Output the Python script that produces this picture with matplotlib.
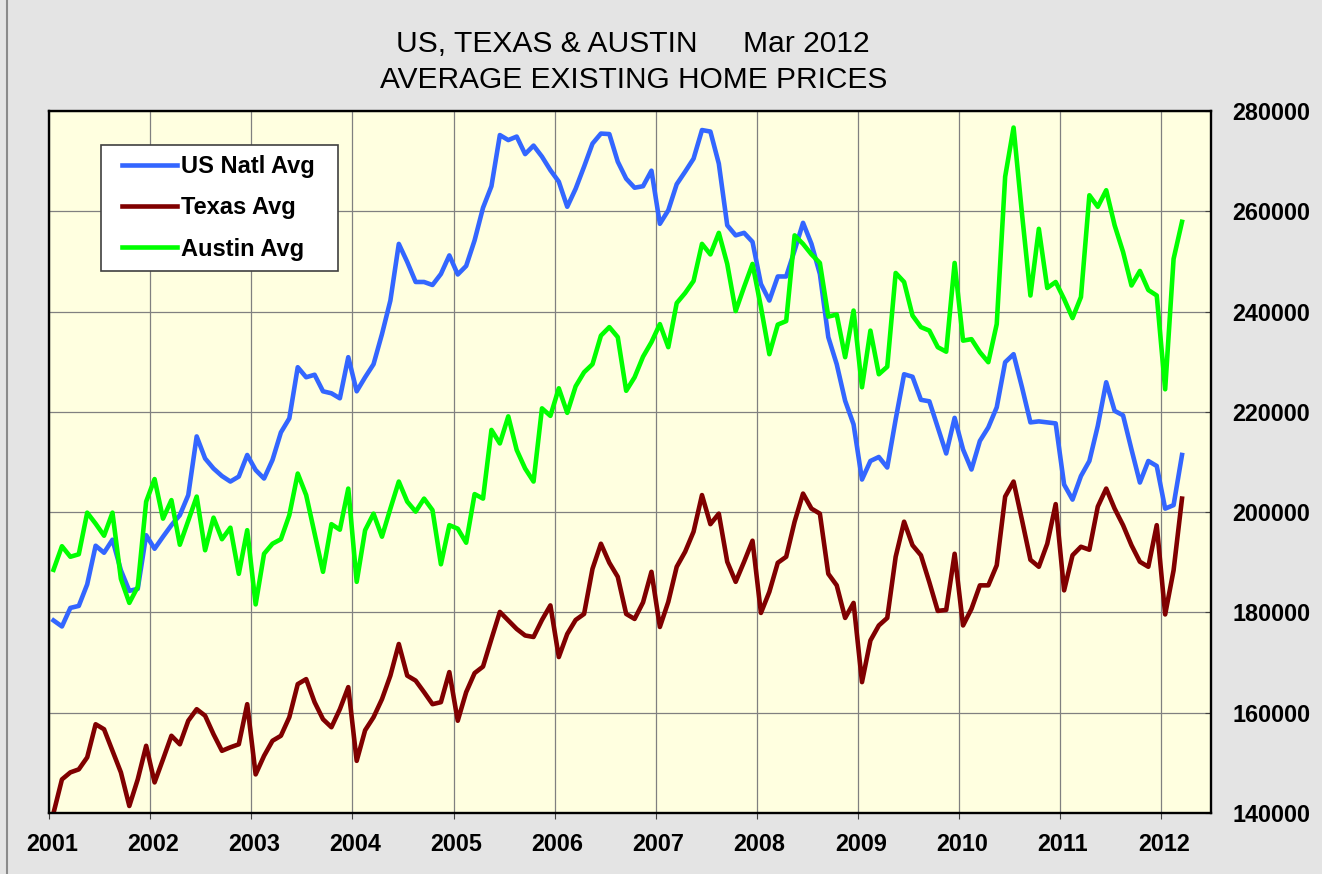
import matplotlib
matplotlib.use('Agg')
import matplotlib.pyplot as plt
import matplotlib.transforms as mtransforms
import numpy as np
from matplotlib.lines import Line2D
from matplotlib.legend_handler import HandlerLine2D

plt.rcParams['font.family'] = ['Liberation Sans', 'DejaVu Sans']

years = list(range(2001, 2013))
series_names = ['US Natl Avg', 'Texas Avg', 'Austin Avg']

# Monthly averages, Jan 2001 .. Mar 2012
us_natl = [
    178400, 177200, 180900, 181300, 185600, 193300, 191900, 194500, 188400, 184300, 184700, 195400,
    192700, 195100, 197400, 199400, 203400, 215100, 210700, 208700, 207200, 206100, 207100, 211400,
    208400, 206700, 210400, 215900, 218700, 228900, 226900, 227400, 224100, 223700, 222700, 230900,
    224100, 226900, 229500, 235500, 242200, 253500, 249900, 245900, 245900, 245300, 247500, 251200,
    247400, 249100, 254200, 260700, 265000, 275200, 274200, 274900, 271400, 273100, 270900, 268200,
    265900, 260900, 264500, 268900, 273500, 275500, 275400, 269900, 266500, 264700, 265000, 268100,
    257500, 260200, 265400, 267900, 270500, 276200, 275900, 269500, 257200, 255200, 255700, 253900,
    245500, 242200, 247000, 247000, 252200, 257700, 253500, 247500, 234900, 229500, 222200, 217500,
    206500, 210200, 211000, 208900, 218500, 227500, 227000, 222400, 222100, 216900, 211700, 218800,
    212500, 208500, 214200, 216900, 220900, 229900, 231500, 224900, 217900, 218100, 217900, 217700,
    205500, 202500, 207200, 210200, 217200, 225900, 220200, 219300, 212500, 205900, 210200, 209200,
    200700, 201400, 211400,
]

texas = [
    140000, 146700, 148100, 148700, 151100, 157700, 156700, 152400, 148100, 141400, 146700, 153400,
    146100, 150700, 155400, 153700, 158400, 160700, 159400, 155700, 152400, 153100, 153700, 161700,
    147700, 151400, 154400, 155400, 159100, 165700, 166700, 162100, 158700, 157100, 160700, 165100,
    150400, 156500, 159100, 162700, 167400, 173700, 167400, 166400, 164100, 161700, 162100, 168100,
    158400, 164100, 167900, 169200, 174700, 180100, 178400, 176700, 175400, 175100, 178500, 181400,
    171100, 175700, 178500, 179700, 188700, 193700, 189900, 187100, 179700, 178700, 182000, 188100,
    177100, 182100, 189100, 192100, 196100, 203400, 197600, 199700, 190100, 186100, 190100, 194300,
    179900, 184100, 189900, 191100, 198100, 203700, 200700, 199700, 187700, 185400, 178900, 181900,
    166100, 174400, 177400, 178900, 191100, 198100, 193400, 191400, 186000, 180300, 180500, 191700,
    177400, 180700, 185400, 185400, 189400, 203100, 206100, 198400, 190500, 189100, 193700, 201600,
    184400, 191400, 193100, 192500, 201100, 204700, 200700, 197400, 193400, 190100, 189100, 197400,
    179600, 188400, 202700,
]

austin = [
    188500, 193200, 191100, 191600, 199900, 197700, 195300, 199900, 186700, 181900, 185100, 202100,
    206600, 198700, 202400, 193500, 198300, 203100, 192400, 198900, 194600, 196900, 187700, 196400,
    181600, 191700, 193700, 194600, 199400, 207700, 203400, 195700, 188100, 197600, 196500, 204700,
    186100, 196400, 199700, 195100, 200700, 206100, 202100, 200100, 202700, 200400, 189600, 197400,
    196700, 193900, 203600, 202700, 216400, 213700, 219100, 212400, 208700, 206100, 220700, 219200,
    224700, 219800, 225100, 227900, 229500, 235200, 236900, 234900, 224200, 226900, 231000, 233900,
    237500, 232900, 241700, 243700, 246100, 253500, 251400, 255700, 249500, 240100, 244900, 249500,
    240900, 231500, 237400, 238100, 255200, 253500, 251400, 249700, 239000, 239400, 230900, 240200,
    224900, 236200, 227500, 229000, 247700, 245900, 239200, 236900, 236200, 232900, 232000, 249700,
    234200, 234500, 231900, 229900, 237500, 266900, 276700, 259500, 243200, 256500, 244700, 245900,
    242500, 238700, 242900, 263200, 260900, 264200, 257200, 251900, 245200, 248100, 244300, 243200,
    224500, 250500, 257900,
]

y_ticks = [140000, 160000, 180000, 200000, 220000, 240000, 260000, 280000]

months = np.arange(len(us_natl)) + 0.5  # mid-month position

fig = plt.figure(figsize=(13.22, 8.74), dpi=100, facecolor='#E4E4E4')
ax = fig.add_axes([0.0373, 0.0698, 0.8791, 0.8032], facecolor='#FFFFE0')

ax.plot(months, us_natl, color='#3366FF', lw=3.3, label=series_names[0] + '  ')
ax.plot(months, texas, color='#800000', lw=3.3, label=series_names[1])
ax.plot(months, austin, color='#00FF00', lw=3.3, label=series_names[2])

ax.set_xlim(0, 138)
ax.set_ylim(140000, 280000)
ax.set_xticks(np.arange(len(years)) * 12)
ax.set_xticklabels([str(y) for y in years])
ax.set_yticks(y_ticks)
ax.set_yticklabels([str(v) for v in y_ticks])
ax.yaxis.tick_right()

ax.grid(True, color='#808080', lw=0.9)
ax.set_axisbelow(True)
for s in ax.spines.values():
    s.set_linewidth(1.7)
    s.set_color('black')

ax.tick_params(axis='x', direction='out', length=4.3, width=0.8, color='#404040',
               pad=10, labelsize=16.8)
ax.tick_params(axis='y', direction='in', length=4.3, width=0.8, color='#404040',
               pad=14.8, labelsize=16.8, right=True, left=False)
for lab in ax.get_xticklabels() + ax.get_yticklabels():
    lab.set_fontweight('bold')

leg = ax.legend(loc='upper left', bbox_to_anchor=(0.0442, 0.9516), borderaxespad=0,
                frameon=True, fancybox=False, edgecolor='#404040', facecolor='white',
                framealpha=1, prop={'weight': 'bold', 'size': 17},
                handlelength=2.8, handletextpad=0.2, labelspacing=0.78, borderpad=0.42,
                handler_map={Line2D: HandlerLine2D(xpad=0.5)})
leg.get_frame().set_linewidth(1.2)

fig.text(698 / 1322, 1 - 51.7 / 874, 'US, TEXAS & AUSTIN', ha='right', va='baseline',
         fontsize=21.6)
fig.text(743 / 1322, 1 - 51.7 / 874, 'Mar 2012', ha='left', va='baseline', fontsize=21.6)
fig.text(633.5 / 1322, 1 - 87.7 / 874, 'AVERAGE EXISTING HOME PRICES', ha='center',
         va='baseline', fontsize=21.5)

fig.add_artist(Line2D([7 / 1322, 7 / 1322], [0, 1], transform=fig.transFigure,
                      color='#8A8A8A', lw=1.5))

fig.canvas.draw()
shift = mtransforms.ScaledTranslation(3 / 100, 0, fig.dpi_scale_trans)
for tick in ax.xaxis.get_major_ticks():
    tick.label1.set_transform(tick.label1.get_transform() + shift)

fig.savefig('out.png', dpi=100, facecolor=fig.get_facecolor())
